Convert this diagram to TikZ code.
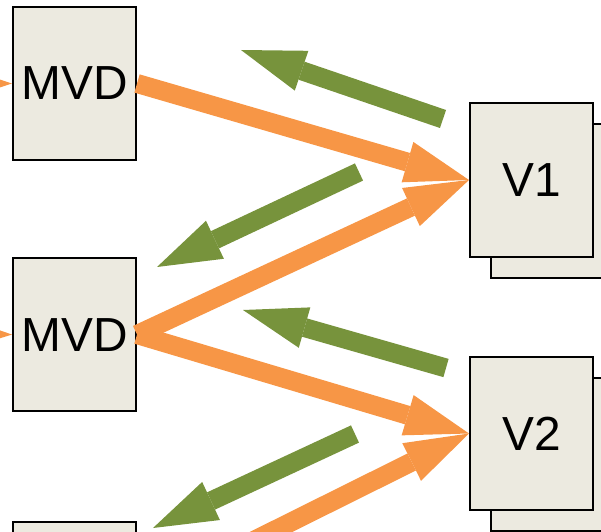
\documentclass[tikz,border=0pt]{standalone}
\usepackage{fontspec}
\setmainfont{Liberation Sans}
\usetikzlibrary{positioning,arrows.meta,shadows}
\definecolor{boxfill}{HTML}{ECEAE0}
\definecolor{fwdorange}{HTML}{F79646}
\definecolor{backgreen}{HTML}{77933C}
\begin{document}
\begin{tikzpicture}[x=0.025cm,y=-0.025cm,
        box/.style={draw=black,line width=0.05cm,fill=boxfill,minimum width=3.075cm,
            minimum height=3.825cm,inner sep=0pt,font=\fontsize{34}{40}\selectfont},
        vbox/.style={box,copy shadow={shadow xshift=0.525cm,shadow yshift=-0.525cm}},
        fwd/.style={draw=fwdorange,line width=0.475cm,
            -{Triangle[length=1.6cm,width=1.05cm,line width=0pt]}},
        back/.style={fwd,draw=backgreen}]
        \path[use as bounding box,clip] (0,0) rectangle (601,532);
        \node[box] (mvda) at (74.5,83.5) {MVD};
        \node[box] (mvdb) [below=2.4cm of mvda] {MVD};
        \node[box] (mvdc) [below=2.725cm of mvdb] {};
        \node[vbox] (va) at (531.5,180) {V1};
        \node[vbox] (vb) at (531.5,433.5) {V2};
        \coordinate (ina) at (-80,83.5);
        \coordinate (inb) at (-80,333);
        \draw[fwd] (ina) -- (mvda.west);
        \draw[fwd] (inb) -- (mvdb.west);
        \draw[fwd] (mvda.east) -- (va.west);
        \draw[fwd] (mvdb.east) -- (va.west);
        \draw[fwd] (mvdb.east) -- (vb.west);
        \draw[fwd] (mvdc.east) -- (vb.west);
        % feedback
        \coordinate (fba) at (443,119);
        \coordinate (fbb) at (359,172);
        \coordinate (fbc) at (446,368);
        \coordinate (fbd) at (355,434);
        \coordinate (toa) at (241,50);
        \coordinate (tob) at (157,267);
        \coordinate (toc) at (243,310);
        \coordinate (tod) at (153,528);
        \draw[back] (fba) -- (toa);
        \draw[back] (fbb) -- (tob);
        \draw[back] (fbc) -- (toc);
        \draw[back] (fbd) -- (tod);
    \end{tikzpicture}
\end{document}
